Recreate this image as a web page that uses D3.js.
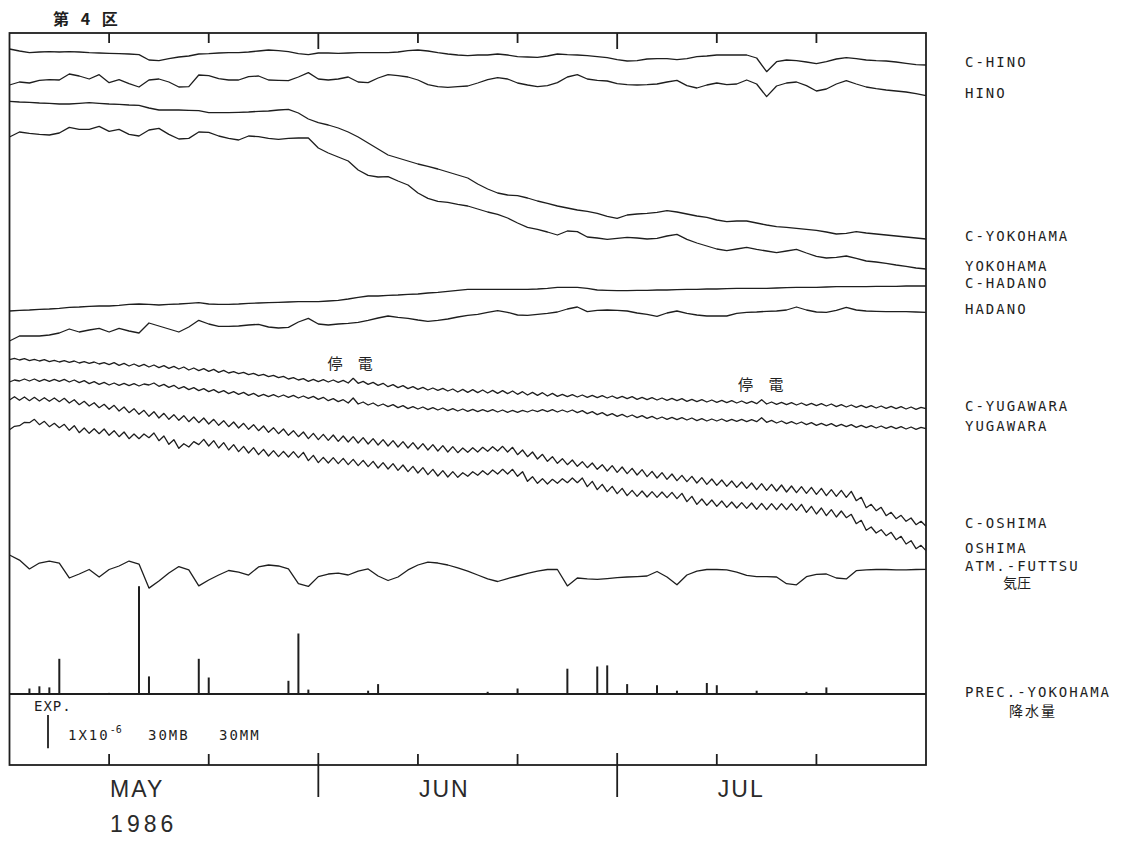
<!DOCTYPE html>
<html>
<head>
<meta charset="utf-8">
<script src="https://cdnjs.cloudflare.com/ajax/libs/d3/7.8.5/d3.min.js"></script>
<style>
  body { margin: 0; padding: 0; background: #fff; }
  svg { display: block; }
  .trace { fill: none; stroke: #1e1e1e; stroke-width: 1.3; stroke-linejoin: round; }
  .frame { fill: none; stroke: #1e1e1e; stroke-width: 1.8; }
  .tick { stroke: #1e1e1e; stroke-width: 1.8; }
  .rain { stroke: #1e1e1e; stroke-width: 2; }
  .mono { font-family: "DejaVu Sans Mono", monospace; fill: #1e1e1e; font-size: 14px; letter-spacing: 2px; }
  .cjk { font-family: "Noto Sans CJK JP", sans-serif; fill: #1e1e1e; }
  .month { font-family: "Liberation Sans", sans-serif; font-size: 23px; fill: #2a2a2a; }
</style>
</head>
<body>
<div id="chart"></div>
<script>
// strain records in units of 1e-8 (100 = 1x10^-6), daily from 1 May 1986
const cHino = [
  1932, 1926, 1921, 1923, 1924, 1923, 1924, 1923, 1921, 1920,
  1919, 1918, 1917, 1915, 1899, 1897, 1903, 1908, 1911, 1917,
  1918, 1920, 1921, 1921, 1923, 1926, 1929, 1927, 1924, 1918,
  1915, 1920, 1920, 1919, 1920, 1921, 1921, 1921, 1921, 1923,
  1927, 1929, 1926, 1921, 1917, 1914, 1912, 1914, 1914, 1917,
  1914, 1909, 1908, 1907, 1911, 1917, 1915, 1914, 1912, 1909,
  1906, 1900, 1896, 1897, 1902, 1903, 1903, 1900, 1903, 1909,
  1911, 1914, 1914, 1914, 1914, 1905, 1864, 1894, 1899, 1897,
  1893, 1888, 1894, 1902, 1906, 1903, 1899, 1897, 1896, 1893,
  1889, 1885, 1884
];
const hino = [
  1824, 1833, 1830, 1838, 1840, 1839, 1857, 1851, 1842, 1855,
  1831, 1840, 1828, 1818, 1839, 1842, 1833, 1818, 1819, 1854,
  1852, 1843, 1839, 1839, 1849, 1851, 1839, 1838, 1837, 1848,
  1861, 1842, 1839, 1842, 1848, 1833, 1831, 1845, 1855, 1852,
  1848, 1839, 1825, 1819, 1817, 1819, 1821, 1830, 1840, 1846,
  1842, 1830, 1824, 1819, 1822, 1831, 1848, 1855, 1842, 1838,
  1836, 1828, 1825, 1824, 1825, 1827, 1833, 1838, 1822, 1815,
  1824, 1830, 1825, 1827, 1839, 1827, 1789, 1821, 1830, 1833,
  1822, 1806, 1812, 1827, 1837, 1827, 1818, 1813, 1809, 1806,
  1803, 1798, 1792
];
const cYokohama = [
  1775, 1773, 1772, 1770, 1769, 1767, 1767, 1769, 1771, 1769,
  1767, 1766, 1764, 1763, 1755, 1749, 1749, 1749, 1748, 1747,
  1741, 1741, 1741, 1742, 1743, 1745, 1746, 1749, 1751, 1740,
  1722, 1711, 1704, 1695, 1683, 1668, 1650, 1632, 1614, 1605,
  1596, 1587, 1580, 1572, 1563, 1554, 1545, 1527, 1512, 1500,
  1494, 1492, 1485, 1476, 1469, 1461, 1455, 1449, 1445, 1439,
  1430, 1424, 1434, 1437, 1439, 1442, 1447, 1443, 1437, 1431,
  1427, 1419, 1414, 1416, 1416, 1410, 1404, 1399, 1397, 1394,
  1391, 1388, 1383, 1377, 1379, 1384, 1380, 1377, 1374, 1371,
  1368, 1365, 1362
];
const yokohama = [
  1668, 1683, 1679, 1676, 1674, 1680, 1697, 1691, 1691, 1700,
  1685, 1691, 1676, 1671, 1689, 1694, 1676, 1662, 1664, 1683,
  1682, 1671, 1664, 1659, 1671, 1669, 1664, 1661, 1664, 1665,
  1665, 1635, 1620, 1608, 1596, 1569, 1553, 1548, 1549, 1536,
  1524, 1500, 1484, 1475, 1472, 1466, 1461, 1452, 1443, 1436,
  1425, 1410, 1397, 1391, 1383, 1374, 1386, 1384, 1368, 1365,
  1361, 1364, 1367, 1365, 1362, 1364, 1371, 1376, 1361, 1350,
  1341, 1332, 1327, 1332, 1337, 1331, 1326, 1321, 1326, 1331,
  1320, 1310, 1305, 1307, 1311, 1304, 1296, 1293, 1289, 1284,
  1280, 1275, 1272
];
const cHadano = [
  1146, 1148, 1149, 1151, 1152, 1154, 1157, 1158, 1160, 1161,
  1161, 1163, 1166, 1167, 1166, 1164, 1166, 1167, 1169, 1171,
  1167, 1166, 1166, 1167, 1169, 1170, 1171, 1172, 1173, 1174,
  1174, 1174, 1176, 1178, 1182, 1187, 1191, 1191, 1193, 1194,
  1196, 1197, 1200, 1202, 1205, 1208, 1211, 1211, 1211, 1211,
  1211, 1211, 1211, 1212, 1214, 1217, 1217, 1217, 1214, 1209,
  1208, 1207, 1207, 1208, 1208, 1209, 1209, 1210, 1211, 1211,
  1212, 1212, 1213, 1214, 1214, 1214, 1214, 1215, 1216, 1217,
  1217, 1217, 1218, 1219, 1219, 1219, 1219, 1220, 1220, 1220,
  1221, 1221, 1221
];
const hadano = [
  1056, 1071, 1071, 1071, 1074, 1080, 1092, 1083, 1089, 1094,
  1083, 1094, 1086, 1080, 1110, 1101, 1092, 1083, 1098, 1118,
  1107, 1100, 1100, 1101, 1104, 1106, 1098, 1095, 1097, 1113,
  1124, 1107, 1104, 1107, 1109, 1112, 1118, 1125, 1131, 1127,
  1124, 1119, 1115, 1118, 1122, 1128, 1133, 1136, 1142, 1147,
  1142, 1134, 1133, 1136, 1139, 1143, 1152, 1158, 1144, 1148,
  1149, 1148, 1146, 1140, 1136, 1130, 1140, 1146, 1139, 1134,
  1131, 1131, 1131, 1139, 1142, 1143, 1145, 1146, 1149, 1158,
  1149, 1143, 1142, 1148, 1157, 1149, 1146, 1145, 1144, 1144,
  1144, 1143, 1142
];
// tidal records, every 12 hours
const cYugawara = [
  1000, 1004, 999, 1003, 997, 1001, 996, 1000, 994, 998, 993, 997, 992, 996, 990, 994, 989, 993, 987, 991,
  985, 991, 983, 989, 981, 987, 980, 986, 978, 984, 976, 982, 974, 980, 972, 978, 969, 975, 967, 973,
  965, 971, 962, 968, 960, 964, 958, 962, 955, 959, 952, 956, 949, 953, 946, 950, 942, 946, 939, 943,
  935, 941, 934, 940, 933, 939, 932, 938, 930, 944, 929, 935, 926, 932, 923, 929, 919, 925, 916, 922,
  913, 919, 911, 917, 909, 915, 908, 914, 906, 912, 903, 911, 902, 910, 901, 909, 900, 908, 899, 907,
  898, 906, 896, 904, 894, 902, 893, 901, 891, 899, 890, 896, 889, 895, 888, 894, 887, 893, 886, 892,
  885, 891, 884, 890, 883, 889, 881, 887, 880, 886, 879, 885, 878, 884, 877, 883, 875, 881, 874, 880,
  873, 879, 872, 878, 871, 877, 870, 876, 869, 875, 868, 880, 867, 873, 866, 872, 865, 871, 864, 870,
  863, 869, 862, 868, 861, 867, 859, 865, 858, 864, 857, 863, 856, 862, 855, 861, 854, 860, 853, 859,
  852, 858, 851, 857, 853
];
const yugawara = [
  933, 939, 936, 942, 936, 942, 935, 941, 935, 941, 935, 941, 933, 939, 931, 937, 928, 934, 926, 932,
  924, 930, 923, 929, 922, 928, 921, 927, 924, 930, 920, 926, 917, 923, 913, 919, 910, 916, 907, 913,
  904, 910, 901, 907, 898, 904, 896, 902, 893, 899, 890, 896, 889, 895, 888, 894, 887, 893, 885, 891,
  884, 890, 881, 887, 877, 883, 874, 880, 870, 885, 867, 873, 864, 870, 861, 867, 859, 865, 856, 862,
  853, 859, 852, 858, 850, 856, 849, 855, 847, 853, 846, 852, 845, 851, 844, 850, 844, 850, 843, 849,
  842, 848, 842, 848, 843, 849, 844, 850, 844, 850, 843, 849, 843, 849, 841, 847, 838, 844, 835, 841,
  832, 838, 830, 836, 828, 834, 826, 832, 824, 830, 822, 828, 821, 827, 820, 826, 819, 825, 817, 823,
  816, 822, 816, 822, 815, 821, 815, 821, 814, 820, 814, 826, 812, 818, 810, 816, 808, 814, 807, 813,
  805, 811, 803, 809, 802, 808, 800, 806, 799, 805, 797, 803, 796, 802, 795, 801, 794, 800, 793, 799,
  792, 798, 791, 797, 793
];
const cOshima = [
  879, 889, 878, 888, 877, 887, 876, 886, 875, 885, 874, 884, 870, 880, 865, 875, 861, 871, 856, 866,
  851, 863, 846, 858, 841, 853, 836, 848, 830, 844, 825, 839, 821, 835, 818, 832, 814, 828, 811, 825,
  807, 821, 803, 817, 799, 813, 795, 809, 791, 805, 787, 801, 782, 796, 778, 792, 773, 787, 769, 783,
  763, 779, 760, 776, 758, 774, 755, 771, 753, 769, 750, 766, 747, 763, 744, 760, 741, 757, 738, 754,
  735, 751, 732, 748, 729, 745, 726, 742, 723, 739, 721, 735, 722, 736, 723, 737, 725, 739, 726, 740,
  723, 737, 715, 729, 709, 723, 702, 716, 695, 709, 689, 703, 685, 699, 680, 694, 676, 690, 671, 685,
  666, 682, 662, 678, 658, 674, 654, 670, 649, 665, 645, 661, 641, 657, 637, 653, 634, 650, 630, 646,
  626, 642, 623, 639, 620, 636, 617, 633, 614, 630, 610, 628, 608, 626, 606, 624, 603, 621, 601, 619,
  599, 617, 596, 614, 592, 610, 590, 608, 587, 605, 577, 587, 556, 566, 547, 557, 532, 542, 523, 533,
  515, 525, 505, 515, 500
];
const oshima = [
  790, 800, 802, 812, 811, 821, 805, 815, 799, 809, 796, 806, 788, 802, 781, 795, 779, 793, 778, 792,
  773, 787, 769, 783, 763, 777, 763, 777, 766, 780, 757, 771, 746, 760, 734, 748, 738, 754, 745, 761,
  741, 757, 735, 751, 729, 745, 724, 740, 720, 736, 715, 731, 711, 727, 709, 725, 708, 724, 706, 722,
  697, 713, 691, 707, 690, 706, 688, 704, 685, 701, 682, 698, 679, 695, 675, 691, 672, 688, 668, 684,
  664, 680, 660, 676, 655, 671, 651, 667, 648, 664, 647, 661, 650, 664, 653, 667, 655, 669, 657, 671,
  657, 671, 650, 664, 635, 649, 629, 643, 627, 641, 629, 643, 631, 645, 631, 645, 619, 635, 610, 626,
  604, 620, 598, 614, 592, 608, 590, 606, 588, 604, 587, 603, 586, 602, 583, 599, 574, 590, 566, 582,
  563, 579, 560, 576, 557, 573, 555, 571, 554, 570, 551, 569, 550, 568, 550, 568, 550, 568, 548, 566,
  542, 560, 537, 555, 532, 550, 528, 546, 526, 536, 508, 518, 488, 498, 480, 490, 472, 482, 460, 470,
  447, 457, 433, 443, 427
];
// atmospheric pressure at Futtsu, mb, daily
const atmFuttsu = [
  1019.1, 1014.5, 1006.4, 1011.8, 1013.6, 1011.8, 998.2, 1001.8, 1005.9, 999.1,
  1005.9, 1009.1, 1013.6, 1010.9, 989.0, 995.5, 1002.7, 1008.6, 1005.5, 991.0,
  996.4, 1000.9, 1005.0, 1003.6, 1000.9, 1008.2, 1010.0, 1009.1, 1006.4, 993.0,
  990.5, 999.4, 1001.8, 1002.7, 1000.9, 1004.5, 1006.4, 1000.0, 995.9, 999.1,
  1005.5, 1010.0, 1012.7, 1011.8, 1010.0, 1007.3, 1004.5, 1000.9, 997.3, 995.0,
  997.7, 1000.0, 1002.3, 1004.5, 1005.9, 1005.9, 991.0, 998.2, 997.3, 997.0,
  997.7, 998.6, 999.1, 999.5, 1000.0, 1004.1, 999.1, 992.0, 1000.9, 1004.5,
  1005.9, 1005.9, 1005.5, 1003.6, 1000.5, 999.5, 999.4, 999.1, 993.0, 992.0,
  999.4, 1001.4, 1001.8, 998.2, 997.3, 1004.8, 1005.5, 1005.9, 1005.9, 1005.5,
  1005.6, 1005.9, 1006.1
];
// daily precipitation at Yokohama, mm
const precipDates = [
  '1986-05-03', '1986-05-04', '1986-05-05', '1986-05-06', '1986-05-11', '1986-05-14', '1986-05-15',
  '1986-05-20', '1986-05-21', '1986-05-29', '1986-05-30', '1986-05-31', '1986-06-06', '1986-06-07',
  '1986-06-18', '1986-06-21', '1986-06-26', '1986-06-29', '1986-06-30', '1986-07-02', '1986-07-05',
  '1986-07-07', '1986-07-10', '1986-07-11', '1986-07-15', '1986-07-20', '1986-07-22'
];
const precipMm = [5, 7, 6, 32, 1, 98, 16, 32, 15, 12, 55, 4, 3, 9, 2, 5, 23, 25, 26, 9, 8, 3, 10, 8, 3, 2, 6];

const stations = ['C-HINO', 'HINO', 'C-YOKOHAMA', 'YOKOHAMA', 'C-HADANO', 'HADANO',
  'C-YUGAWARA', 'YUGAWARA', 'C-OSHIMA', 'OSHIMA'];
const outageTimes = ['1986-06-04T12:00', '1986-07-15T17:00'];
const outageLabel = '停 電';
const monthLabels = ['MAY', 'JUN', 'JUL'];
const monthLabelDates = ['1986-05-11', '1986-06-11', '1986-07-11'];
const monthStarts = ['1986-06-01', '1986-07-01'];
const minorTicks = ['1986-05-11', '1986-05-21', '1986-06-11', '1986-06-21', '1986-07-11', '1986-07-21'];
const legendTexts = ['30MB', '30MM'];

const W = 1121, H = 841;
const plotLeft = 9.5, plotRight = 926, plotTop = 33, plotBottom = 765;
const start = new Date(1986, 4, 1), end = new Date(1986, 7, 1);
const parseDate = s => new Date(s.length > 10 ? s : s + 'T00:00');

const x = d3.scaleTime().domain([start, end]).range([plotLeft, plotRight]);
const yStrain = d3.scaleLinear().domain([0, 1980]).range([693, 33]);
const yPress = d3.scaleLinear().domain([1010, 1040]).range([565, 532]);
const yRain = d3.scaleLinear().domain([0, 30]).range([694, 661]);

const series = [
  { values: cHino, hours: 24 }, { values: hino, hours: 24 },
  { values: cYokohama, hours: 24 }, { values: yokohama, hours: 24 },
  { values: cHadano, hours: 24 }, { values: hadano, hours: 24 },
  { values: cYugawara, hours: 12 }, { values: yugawara, hours: 12 },
  { values: cOshima, hours: 12 }, { values: oshima, hours: 12 }
];

const svg = d3.select('#chart').append('svg').attr('width', W).attr('height', H);

const lineFor = scale => d3.line()
  .x(d => x(d[0]))
  .y(d => scale(d[1]));

const toPoints = (values, hours) => values.map((v, i) => [d3.timeHour.offset(start, i * hours), v]);

// strain traces
series.forEach((s, k) => {
  const pts = toPoints(s.values, s.hours);
  svg.append('path').attr('class', 'trace').attr('d', lineFor(yStrain)(pts));
  svg.append('text').attr('class', 'mono')
    .attr('x', 965).attr('y', yStrain(s.values[s.values.length - 1]) - 3)
    .attr('dominant-baseline', 'central')
    .text(stations[k]);
});

// pressure
const atmPts = toPoints(atmFuttsu, 24);
svg.append('path').attr('class', 'trace').attr('d', lineFor(yPress)(atmPts));
const atmY = yPress(atmFuttsu[atmFuttsu.length - 1]) - 3;
svg.append('text').attr('class', 'mono').attr('x', 965).attr('y', atmY)
  .attr('dominant-baseline', 'central').text('ATM.-FUTTSU');
svg.append('text').attr('class', 'cjk').attr('x', 1017).attr('y', atmY + 16)
  .attr('text-anchor', 'middle').attr('dominant-baseline', 'central')
  .style('font-size', '14px').text('気圧');

// precipitation
svg.append('line').attr('class', 'tick')
  .attr('x1', plotLeft).attr('x2', plotRight).attr('y1', yRain(0)).attr('y2', yRain(0));
svg.selectAll('.rain').data(precipDates.map((d, i) => [parseDate(d), precipMm[i]]))
  .enter().append('line').attr('class', 'rain')
  .attr('x1', d => x(d[0])).attr('x2', d => x(d[0]))
  .attr('y1', yRain(0)).attr('y2', d => yRain(d[1]));
svg.append('text').attr('class', 'mono').attr('x', 965).attr('y', yRain(0) - 2)
  .attr('dominant-baseline', 'central').text('PREC.-YOKOHAMA');
svg.append('text').attr('class', 'cjk').attr('x', 1033).attr('y', yRain(0) + 16)
  .attr('text-anchor', 'middle').attr('dominant-baseline', 'central')
  .style('font-size', '14px').style('letter-spacing', '2px').text('降水量');

// power outage marks
outageTimes.forEach(t => {
  const d = parseDate(t);
  const idx = Math.round((d - start) / 432e5);
  svg.append('text').attr('class', 'cjk')
    .attr('x', x(d)).attr('y', yStrain(cYugawara[idx]) - 16)
    .attr('text-anchor', 'middle').attr('dominant-baseline', 'central')
    .style('font-size', '15px').style('letter-spacing', '6px')
    .text(outageLabel);
});

// frame and ticks
svg.append('rect').attr('class', 'frame')
  .attr('x', plotLeft).attr('y', plotTop).attr('width', plotRight - plotLeft).attr('height', plotBottom - plotTop);
minorTicks.map(parseDate).forEach(d => {
  svg.append('line').attr('class', 'tick').attr('x1', x(d)).attr('x2', x(d)).attr('y1', plotTop).attr('y2', plotTop + 10);
  svg.append('line').attr('class', 'tick').attr('x1', x(d)).attr('x2', x(d)).attr('y1', plotBottom).attr('y2', plotBottom - 11);
});
monthStarts.map(parseDate).forEach(d => {
  svg.append('line').attr('class', 'tick').attr('x1', x(d)).attr('x2', x(d)).attr('y1', plotTop).attr('y2', plotTop + 16);
  svg.append('line').attr('class', 'tick').attr('x1', x(d)).attr('x2', x(d)).attr('y1', plotBottom - 12).attr('y2', plotBottom + 32);
});

// month labels
monthLabels.forEach((m, i) => {
  svg.append('text').attr('class', 'month')
    .attr('x', x(parseDate(monthLabelDates[i])) + 1).attr('y', 797)
    .style('letter-spacing', '2px').text(m);
});
svg.append('text').attr('class', 'month')
  .attr('x', x(parseDate(monthLabelDates[0])) + 1).attr('y', 832)
  .style('letter-spacing', '4px').text('1986');

// title
svg.append('text').attr('class', 'cjk').attr('x', 53).attr('y', 18)
  .attr('dominant-baseline', 'central')
  .style('font-size', '16px').style('font-weight', 700).style('letter-spacing', '4px')
  .text('第 4 区');

// scale legend
svg.append('text').attr('class', 'mono').attr('x', 34).attr('y', 706)
  .attr('dominant-baseline', 'central').style('letter-spacing', '1px').text('EXP.');
const barTop = 715;
svg.append('line').attr('class', 'tick').attr('x1', 48).attr('x2', 48)
  .attr('y1', barTop).attr('y2', barTop + (yStrain(0) - yStrain(100)));
const exp = svg.append('text').attr('class', 'mono').attr('x', 68).attr('y', 735)
  .attr('dominant-baseline', 'central');
exp.append('tspan').text('1X10');
exp.append('tspan').attr('dy', -6).style('font-size', '10px').style('letter-spacing', '0px').text('-6');
legendTexts.forEach((t, i) => {
  svg.append('text').attr('class', 'mono').attr('x', 148 + i * 71).attr('y', 735)
    .attr('dominant-baseline', 'central').text(t);
});
</script>
</body>
</html>
